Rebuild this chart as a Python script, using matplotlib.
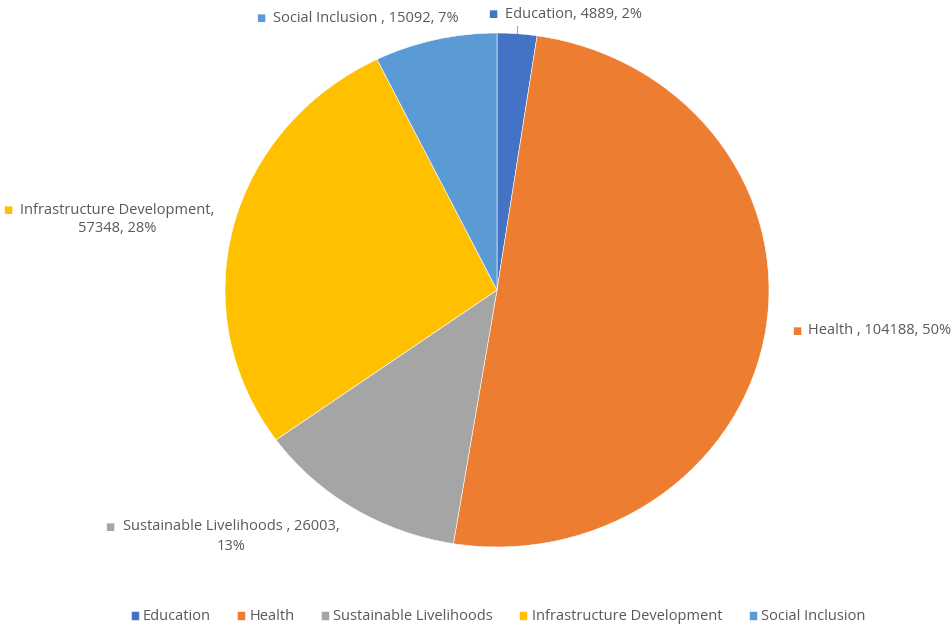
import matplotlib
matplotlib.use("Agg")
import matplotlib.pyplot as plt
from matplotlib.lines import Line2D

categories = ["Education", "Health", "Sustainable Livelihoods", "Infrastructure Development", "Social Inclusion"]
values = [4889, 104188, 26003, 57348, 15092]
percents = ["2%", "50%", "13%", "28%", "7%"]
colors = ["#4472C4", "#ED7D31", "#A5A5A5", "#FFC000", "#5B9BD5"]

W, H = 953, 627
fig = plt.figure(figsize=(W / 100, H / 100), dpi=100)
plt.rcParams['font.family'] = ['Open Sans', 'DejaVu Sans']

def px(x, y):
    return (x / W, 1 - y / H)

# pie axes placed to match pixel extents (slightly elliptical)
left, right, top, bottom = 225, 769, 33, 547
ax = fig.add_axes([left / W, 1 - bottom / H, (right - left) / W, (bottom - top) / H])
wedges, _ = ax.pie(values, colors=colors, startangle=90, counterclock=False,
                   radius=1.0, wedgeprops=dict(edgecolor="white", linewidth=0.4))
ax.set_aspect('auto')
ax.set_xlim(-1, 1)
ax.set_ylim(-1, 1)
ax.axis('off')

tc = "#595959"
fs = 10.5

def label(mx, my, lines, color, text_x, line_centers=None):
    fig.text(*px(mx, my), "■", color=color, fontsize=7, ha="center", va="center",
             family="DejaVu Sans")
    fig.text(*px(text_x, my), lines[0], color=tc, fontsize=fs, ha="left", va="center")
    if len(lines) > 1:
        cx, cy = line_centers
        fig.text(*px(cx, cy), lines[1], color=tc, fontsize=fs, ha="center", va="center")

label(261, 18, [f"{categories[4]} , {values[4]}, {percents[4]}"], colors[4], 273)
label(493, 14, [f"{categories[0]}, {values[0]}, {percents[0]}"], colors[0], 505)
label(797, 331, [f"{categories[1]} , {values[1]}, {percents[1]}"], colors[1], 808)
label(8, 210, [f"{categories[3]},", f"{values[3]}, {percents[3]}"], colors[3], 20, (117, 228))
label(110, 527, [f"{categories[2]} , {values[2]},", percents[2]], colors[2], 123, (231, 546))

# leader line for Education
fig.add_artist(Line2D([517 / W, 517 / W], [1 - 26 / H, 1 - 33 / H], color="#A6A6A6", lw=0.8))

leg = fig.legend(wedges, categories, loc="center", bbox_to_anchor=px(498, 617),
                 ncol=5, frameon=False, fontsize=fs, handlelength=0.55, handleheight=0.55,
                 handletextpad=0.3, columnspacing=1.8, labelcolor=tc)

fig.savefig("out.png", dpi=100, facecolor="white")
